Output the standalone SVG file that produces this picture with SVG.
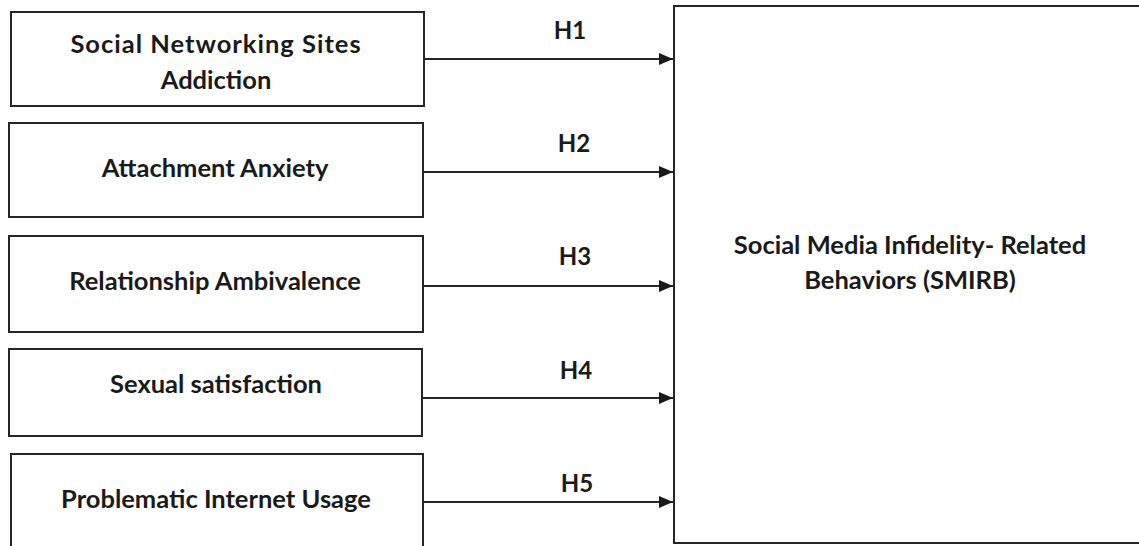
<svg xmlns="http://www.w3.org/2000/svg" width="1139" height="546" viewBox="0 0 1139 546">
<style>
.box{fill:#fff;stroke:#262626;stroke-width:2}
.t{font-family:Lato,"Liberation Sans",sans-serif;font-weight:bold;font-size:25.5px;fill:#1a1a1a;text-anchor:middle}
.lbl{font-family:Lato,"Liberation Sans",sans-serif;font-weight:bold;font-size:24px;fill:#1a1a1a;text-anchor:middle}
.c{stroke:#262626;stroke-width:2;fill:none;marker-end:url(#arr)}
</style>
<defs>
<marker id="arr" markerUnits="userSpaceOnUse" markerWidth="14" markerHeight="12" refX="14" refY="6" orient="auto">
<path d="M0,0 L14,6 L0,12 Z" fill="#1a1a1a"/>
</marker>
</defs>
<rect width="1139" height="546" fill="#fff"/>
<g id="n1"><rect class="box" x="11" y="12" width="413" height="94"/>
<text class="t" x="216" y="53" letter-spacing="1">Social Networking Sites</text>
<text class="t" x="216" y="89">Addiction</text></g>
<g id="n2"><rect class="box" x="9" y="123" width="414" height="94"/>
<text class="t" x="215" y="177">Attachment Anxiety</text></g>
<g id="n3"><rect class="box" x="9" y="236" width="414" height="96"/>
<text class="t" x="215" y="290">Relationship Ambivalence</text></g>
<g id="n4"><rect class="box" x="9" y="349" width="413" height="87"/>
<text class="t" x="216" y="393">Sexual satisfaction</text></g>
<g id="n5"><rect class="box" x="11" y="454" width="412" height="100"/>
<text class="t" x="216" y="508">Problematic Internet Usage</text></g>
<g id="n6"><rect class="box" x="674" y="6" width="480" height="537"/>
<text class="t" x="910" y="254">Social Media Infidelity- Related</text>
<text class="t" x="910" y="289">Behaviors (SMIRB)</text></g>
<g id="connectors">
<line class="c" x1="424" y1="59" x2="673" y2="59"/>
<line class="c" x1="423" y1="172" x2="673" y2="172"/>
<line class="c" x1="423" y1="286" x2="673" y2="286"/>
<line class="c" x1="422" y1="398" x2="673" y2="398"/>
<line class="c" x1="423" y1="502" x2="673" y2="502"/>
<text class="lbl" x="570" y="39">H1</text>
<text class="lbl" x="574" y="152">H2</text>
<text class="lbl" x="575" y="265">H3</text>
<text class="lbl" x="576" y="379">H4</text>
<text class="lbl" x="577" y="492">H5</text>
</g>
</svg>
